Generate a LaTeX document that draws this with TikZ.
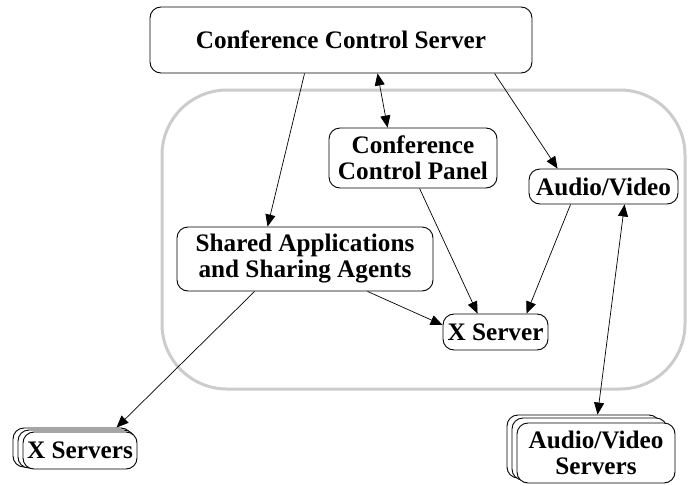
\documentclass[tikz,border=0pt]{standalone}
\usepackage{fontspec}
\setmainfont{Liberation Serif}
\usetikzlibrary{arrows.meta}
\begin{document}
\begin{tikzpicture}[x=1pt,y=-1pt,
  box/.style={draw, rounded corners=11pt, line width=0.9pt, fill=white, inner sep=0pt, align=center,
    font=\fontsize{25.2}{26}\selectfont\bfseries},
  conn/.style={line width=0.7pt, -{Triangle[length=12pt,width=10pt]}},
  bconn/.style={line width=0.7pt, {Triangle[length=12pt,width=10pt]}-{Triangle[length=12pt,width=10pt]}}]
\useasboundingbox (0,0) rectangle (691,485);
\node[draw=black!20, line width=3pt, rounded corners=65pt, minimum width=523pt, minimum height=299pt, inner sep=0pt] (env) at (423.5,239.5) {};
\node[box, minimum width=382pt, minimum height=66pt] (ccs) at (341,40) {Conference Control Server};
\node[box, minimum width=168pt, minimum height=60pt] (panel) at (413,158) {Conference\\Control Panel};
\node[box, minimum width=149pt, minimum height=35pt] (av) at (603.5,186.5) {Audio/Video};
\node[box, minimum width=256pt, minimum height=64pt] (shared) at (305,259) {Shared Applications\\and Sharing Agents};
\node[box, minimum width=105pt, minimum height=36pt] (xs) at (495.5,332) {X Server};
% stacked X Servers
\node[box, minimum width=119pt, minimum height=39pt] (xsb2) at (72.5,447.5) {};
\node[box, minimum width=117pt, minimum height=38pt] (xsb1) at (76.5,449) {};
\node[box, minimum width=114pt, minimum height=37pt] (xss) at (80,450.5) {X Servers};
% stacked Audio/Video Servers
\node[box, minimum width=153pt, minimum height=63pt] (avb2) at (583.5,446.5) {};
\node[box, minimum width=155pt, minimum height=62pt] (avb1) at (589.5,449) {};
\node[box, minimum width=158pt, minimum height=60pt] (avs) at (596,453) {Audio/Video\\Servers};
% connectors
\draw[conn] ([xshift=155pt]ccs.south west) -- ([xshift=91pt]shared.north west);
\draw[bconn] ([xshift=228pt]ccs.south west) -- ([xshift=59pt]panel.north west);
\draw[conn] ([xshift=345pt]ccs.south west) -- ([xshift=29pt]av.north west);
\draw[conn] ([xshift=91pt]panel.south west) -- ([xshift=35pt]xs.north west);
\draw[conn] ([xshift=42pt]av.south west) -- ([xshift=84pt]xs.north west);
\draw[conn] ([xshift=191pt]shared.south west) -- ([yshift=7pt]xs.west);
\draw[conn] ([xshift=78pt]shared.south west) -- ([xshift=104pt]xsb2.north west);
\draw[bconn] ([xshift=96pt]av.south west) -- ([xshift=91pt]avb2.north west);
\end{tikzpicture}
\end{document}
